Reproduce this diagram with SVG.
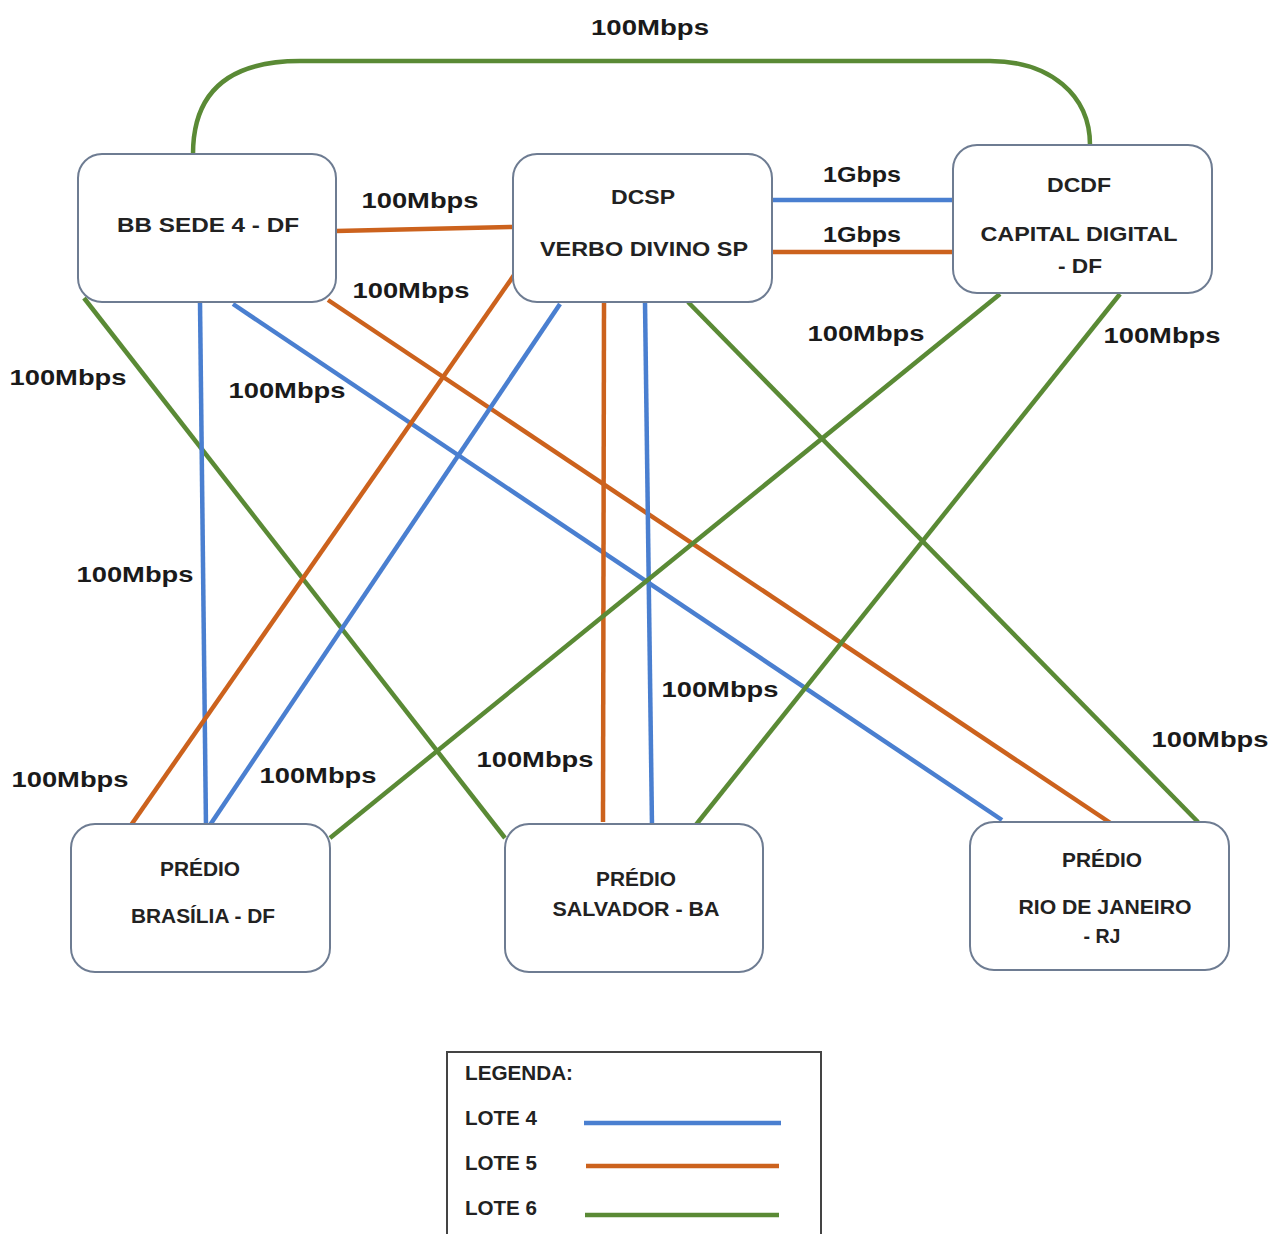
<svg xmlns="http://www.w3.org/2000/svg" width="1273" height="1234" viewBox="0 0 1273 1234">
<style>
.box{fill:#ffffff;stroke:#6e7c92;stroke-width:2}
.t{font-family:"Liberation Sans",Arial,sans-serif;font-weight:bold;font-size:20px;fill:#222;text-anchor:middle}
.l{font-family:"Liberation Sans",Arial,sans-serif;font-weight:bold;font-size:22px;fill:#1a1a1a;text-anchor:middle}
.g{font-family:"Liberation Sans",Arial,sans-serif;font-weight:bold;font-size:20px;fill:#222}
.b{stroke:#4a7fd0;stroke-width:4.5;fill:none}
.o{stroke:#cc621d;stroke-width:4.5;fill:none}
.gr{stroke:#5a8a35;stroke-width:4.5;fill:none}
</style>
<rect width="1273" height="1234" fill="#ffffff"/>
<g id="connectors">
<path class="gr" d="M193,154 C193,95 225,61 300,61 L990,61 C1050,61 1090,95 1090,145"/>
<line class="o" x1="336" y1="231" x2="513" y2="227"/>
<line class="b" x1="772" y1="200" x2="953" y2="200"/>
<line class="o" x1="772" y1="252" x2="953" y2="252"/>
<line class="gr" x1="84" y1="298" x2="505" y2="838"/>
<line class="b" x1="200" y1="302" x2="206" y2="828"/>
<line class="b" x1="233" y1="304" x2="1002" y2="820"/>
<line class="o" x1="328" y1="300" x2="1112" y2="824"/>
<line class="o" x1="519" y1="268" x2="129" y2="828"/>
<line class="b" x1="560" y1="304" x2="208" y2="828"/>
<line class="o" x1="604" y1="302" x2="603" y2="822"/>
<line class="b" x1="645" y1="302" x2="652" y2="826"/>
<line class="gr" x1="688" y1="302" x2="1198" y2="822"/>
<line class="gr" x1="1000" y1="294" x2="330" y2="838"/>
<line class="gr" x1="1120" y1="294" x2="695" y2="826"/>
</g>
<g id="labels">
<text class="l" x="650" y="35" textLength="118" lengthAdjust="spacingAndGlyphs">100Mbps</text>
<text class="l" x="420" y="208" textLength="117" lengthAdjust="spacingAndGlyphs">100Mbps</text>
<text class="l" x="862" y="182" textLength="78" lengthAdjust="spacingAndGlyphs">1Gbps</text>
<text class="l" x="862" y="242" textLength="78" lengthAdjust="spacingAndGlyphs">1Gbps</text>
<text class="l" x="411" y="298" textLength="117" lengthAdjust="spacingAndGlyphs">100Mbps</text>
<text class="l" x="68" y="385" textLength="117" lengthAdjust="spacingAndGlyphs">100Mbps</text>
<text class="l" x="287" y="398" textLength="117" lengthAdjust="spacingAndGlyphs">100Mbps</text>
<text class="l" x="866" y="341" textLength="117" lengthAdjust="spacingAndGlyphs">100Mbps</text>
<text class="l" x="1162" y="343" textLength="117" lengthAdjust="spacingAndGlyphs">100Mbps</text>
<text class="l" x="135" y="582" textLength="117" lengthAdjust="spacingAndGlyphs">100Mbps</text>
<text class="l" x="720" y="697" textLength="117" lengthAdjust="spacingAndGlyphs">100Mbps</text>
<text class="l" x="1210" y="747" textLength="117" lengthAdjust="spacingAndGlyphs">100Mbps</text>
<text class="l" x="70" y="787" textLength="117" lengthAdjust="spacingAndGlyphs">100Mbps</text>
<text class="l" x="318" y="783" textLength="117" lengthAdjust="spacingAndGlyphs">100Mbps</text>
<text class="l" x="535" y="767" textLength="117" lengthAdjust="spacingAndGlyphs">100Mbps</text>
</g>
<g id="node-bbsede">
<rect class="box" x="78" y="154" width="258" height="148" rx="24"/>
<text class="t" x="208" y="232" textLength="182" lengthAdjust="spacingAndGlyphs">BB SEDE 4 - DF</text>
</g>
<g id="node-dcsp">
<rect class="box" x="513" y="154" width="259" height="148" rx="24"/>
<text class="t" x="643" y="204" textLength="64" lengthAdjust="spacingAndGlyphs">DCSP</text>
<text class="t" x="644" y="256" textLength="208" lengthAdjust="spacingAndGlyphs">VERBO DIVINO SP</text>
</g>
<g id="node-dcdf">
<rect class="box" x="953" y="145" width="259" height="148" rx="24"/>
<text class="t" x="1079" y="192" textLength="64" lengthAdjust="spacingAndGlyphs">DCDF</text>
<text class="t" x="1079" y="241" textLength="197" lengthAdjust="spacingAndGlyphs">CAPITAL DIGITAL</text>
<text class="t" x="1080" y="273" textLength="44" lengthAdjust="spacingAndGlyphs">- DF</text>
</g>
<g id="node-brasilia">
<rect class="box" x="71" y="824" width="259" height="148" rx="24"/>
<text class="t" x="200" y="876" textLength="80" lengthAdjust="spacingAndGlyphs">PRÉDIO</text>
<text class="t" x="203" y="923" textLength="144" lengthAdjust="spacingAndGlyphs">BRASÍLIA - DF</text>
</g>
<g id="node-salvador">
<rect class="box" x="505" y="824" width="258" height="148" rx="24"/>
<text class="t" x="636" y="886" textLength="80" lengthAdjust="spacingAndGlyphs">PRÉDIO</text>
<text class="t" x="636" y="916" textLength="167" lengthAdjust="spacingAndGlyphs">SALVADOR - BA</text>
</g>
<g id="node-rio">
<rect class="box" x="970" y="822" width="259" height="148" rx="24"/>
<text class="t" x="1102" y="867" textLength="80" lengthAdjust="spacingAndGlyphs">PRÉDIO</text>
<text class="t" x="1105" y="914" textLength="173" lengthAdjust="spacingAndGlyphs">RIO DE JANEIRO</text>
<text class="t" x="1102" y="943" textLength="37" lengthAdjust="spacingAndGlyphs">- RJ</text>
</g>
<g id="legend">
<rect x="447" y="1052" width="374" height="200" fill="#ffffff" stroke="#444" stroke-width="2"/>
<text class="g" x="465" y="1080" textLength="108" lengthAdjust="spacingAndGlyphs">LEGENDA:</text>
<text class="g" x="465" y="1125" textLength="72" lengthAdjust="spacingAndGlyphs">LOTE 4</text>
<text class="g" x="465" y="1170" textLength="72" lengthAdjust="spacingAndGlyphs">LOTE 5</text>
<text class="g" x="465" y="1215" textLength="72" lengthAdjust="spacingAndGlyphs">LOTE 6</text>
<line class="b" x1="584" y1="1123" x2="781" y2="1123"/>
<line class="o" x1="586" y1="1166" x2="779" y2="1166"/>
<line class="gr" x1="585" y1="1215" x2="779" y2="1215"/>
</g>
</svg>
